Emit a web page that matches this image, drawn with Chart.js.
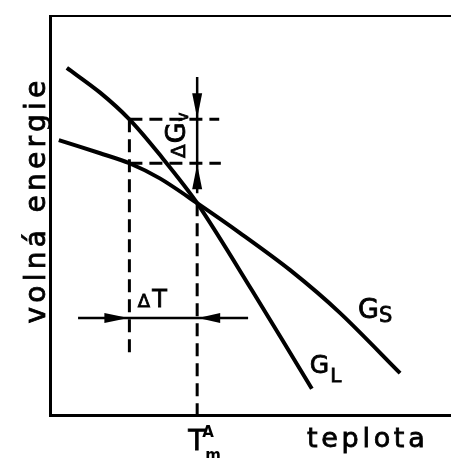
<!DOCTYPE html>
<html>
<head>
<meta charset="utf-8">
<script src="https://cdn.jsdelivr.net/npm/chart.js@4.4.1/dist/chart.umd.min.js"></script>
<style>
  html, body { margin: 0; padding: 0; background: #fff; }
</style>
</head>
<body>
<canvas id="diagram" width="451" height="458"></canvas>
<script>
// ===== free energy curves, temperature vs energy (arbitrary units) =====
const liquidT = [4.2, 12.5, 19.8, 27.4, 36.7, 50.4, 65.3];
const liquidG = [87.0, 80.8, 74.1, 65.2, 53.1, 31.2, 6.6];
const solidT = [2.2, 12.5, 19.8, 27.4, 36.7, 47.4, 59.9, 72.3, 87.3];
const solidG = [68.9, 65.6, 63.1, 59.3, 53.1, 45.6, 36.3, 25.6, 10.5];

// melting point and the undercooled temperature
const meltT = 36.7;
const meltG = 53.1;
const underT = 19.8;
const underLiquidG = 74.1;
const underSolidG = 63.1;

// helper construction lines
const levelLineEnd = [42.2, 42.6];      // right ends of the two level lines
const underDropEnd = 14.0;              // lower end of the dashed line at underT
const dgArrowEnds = [84.7, 55.6];       // vertical delta G arrow, top / bottom
const dtArrowY = 24.3;
const dtArrowEnds = [7.0, 49.4];        // horizontal delta T arrow, left / right

const toPoints = (xs, ys) => xs.map((x, i) => ({ x: x, y: ys[i] }));

const solidLine = { borderColor: '#000', borderWidth: 4, pointRadius: 0, fill: false, tension: 0.3 };
const dashLine = { borderColor: '#000', borderWidth: 3, pointRadius: 0, fill: false, borderDash: [13, 7], tension: 0 };
const thinLine = { borderColor: '#000', borderWidth: 2.5, pointRadius: 0, fill: false, tension: 0 };

const datasets = [
    Object.assign({ label: 'G_L', data: toPoints(liquidT, liquidG) }, solidLine),
    Object.assign({ label: 'G_S', data: toPoints(solidT, solidG) }, solidLine),
    Object.assign({ label: 'Tm', data: [{ x: meltT, y: meltG }, { x: meltT, y: 0 }] }, dashLine),
    Object.assign({ label: 'T', data: [{ x: underT, y: underLiquidG }, { x: underT, y: underDropEnd }] }, dashLine),
    Object.assign({ label: 'GL level', data: [{ x: underT, y: underLiquidG }, { x: levelLineEnd[0], y: underLiquidG }] }, dashLine),
    Object.assign({ label: 'GS level', data: [{ x: underT, y: underSolidG }, { x: levelLineEnd[1], y: underSolidG }] }, dashLine),
    Object.assign({ label: 'dG', data: [{ x: meltT, y: dgArrowEnds[0] }, { x: meltT, y: dgArrowEnds[1] }] }, thinLine),
    Object.assign({ label: 'dT', data: [{ x: dtArrowEnds[0], y: dtArrowY }, { x: dtArrowEnds[1], y: dtArrowY }] }, thinLine)
];

// filled arrow head, (dx, dy) = unit direction towards the tip
function arrowHead(ctx, tipX, tipY, dx, dy, len, half) {
    const bx = tipX - dx * len, by = tipY - dy * len;
    ctx.beginPath();
    ctx.moveTo(tipX, tipY);
    ctx.lineTo(bx - dy * half, by + dx * half);
    ctx.lineTo(bx + dy * half, by - dx * half);
    ctx.closePath();
    ctx.fill();
}

// slightly heavier lettering: fill plus a thin outline
function heavyText(ctx, s, x, y) {
    ctx.fillText(s, x, y);
    ctx.strokeText(s, x, y);
}

// draws a run of [text, font, dy] pieces one after another from (x, y)
function textRun(ctx, x, y, pieces, spacing) {
    pieces.forEach(p => {
        ctx.font = p[1];
        ctx.letterSpacing = (spacing || 0) + 'px';
        heavyText(ctx, p[0], x, y + (p[2] || 0));
        x += ctx.measureText(p[0]).width;
    });
}

const FONT = '"DejaVu Sans", sans-serif';

const annotations = {
    id: 'annotations',
    afterDatasetsDraw(chart) {
        const ctx = chart.ctx;
        const xs = chart.scales.x, ys = chart.scales.y;
        const area = chart.chartArea;
        ctx.save();
        ctx.fillStyle = '#000';
        ctx.strokeStyle = '#000';
        ctx.lineWidth = 0.8;
        ctx.textAlign = 'left';
        ctx.textBaseline = 'alphabetic';

        // delta G arrows
        const ax = xs.getPixelForValue(meltT);
        arrowHead(ctx, ax, ys.getPixelForValue(underLiquidG) - 1, 0, 1, 25, 5);
        arrowHead(ctx, ax, ys.getPixelForValue(underSolidG) + 1, 0, -1, 25, 5);

        // delta T arrows
        const ay = ys.getPixelForValue(dtArrowY);
        arrowHead(ctx, xs.getPixelForValue(underT) - 1, ay, 1, 0, 24, 5);
        arrowHead(ctx, xs.getPixelForValue(meltT) + 1, ay, -1, 0, 22, 5);

        // curve labels
        textRun(ctx, xs.getPixelForValue(76.8), ys.getPixelForValue(24.3),
            [['G', '27px ' + FONT], ['S', '21px ' + FONT, 4]]);
        textRun(ctx, xs.getPixelForValue(64.8), ys.getPixelForValue(10.5),
            [['G', '25px ' + FONT], ['L', '20px ' + FONT, 9]], 1);

        // delta T label
        textRun(ctx, xs.getPixelForValue(21.9), ys.getPixelForValue(27.1),
            [['Δ', '18px ' + FONT], ['T', '24px ' + FONT]], 2);

        // delta G label, written upwards
        ctx.save();
        ctx.translate(xs.getPixelForValue(33.7), ys.getPixelForValue(64.4));
        ctx.rotate(-Math.PI / 2);
        textRun(ctx, 0, 0, [['Δ', '20px ' + FONT], ['G', '27px ' + FONT], ['v', '15px ' + FONT, 3]], 1);
        ctx.restore();

        // T_m^A under the axis
        const tx = xs.getPixelForValue(meltT);
        ctx.font = '28px ' + FONT;
        heavyText(ctx, 'T', tx - 9, area.bottom + 35);
        ctx.font = 'bold 15px ' + FONT;
        ctx.fillText('A', tx + 5, area.bottom + 22);
        ctx.fillText('m', tx + 8, area.bottom + 45);

        // axis titles
        ctx.font = '27px ' + FONT;
        ctx.letterSpacing = '3.7px';
        heavyText(ctx, 'teplota', 307, area.bottom + 32);

        ctx.save();
        ctx.translate(area.left - 5, 200);
        ctx.rotate(-Math.PI / 2);
        ctx.textAlign = 'center';
        ctx.font = '28px ' + FONT;
        ctx.letterSpacing = '4.3px';
        heavyText(ctx, 'volná energie', 0, 0);
        ctx.restore();

        ctx.restore();
    }
};

const hiddenAxis = (pos, width) => ({
    type: 'linear',
    position: pos,
    min: 0,
    max: 100,
    ticks: { display: false },
    grid: { display: false, drawTicks: false },
    border: { display: true, color: '#000', width: width }
});

new Chart(document.getElementById('diagram').getContext('2d'), {
    type: 'line',
    data: { datasets: datasets },
    options: {
        responsive: false,
        animation: false,
        layout: { padding: { left: 50, top: 16, right: 0, bottom: 43 } },
        plugins: { legend: { display: false }, tooltip: { enabled: false } },
        scales: {
            x: hiddenAxis('bottom', 3),
            x2: hiddenAxis('top', 2),
            y: hiddenAxis('left', 3)
        }
    },
    plugins: [annotations]
});
</script>
</body>
</html>
